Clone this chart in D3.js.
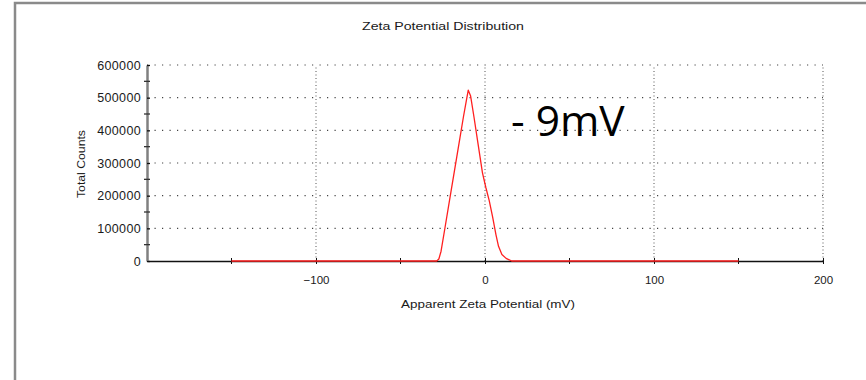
<!doctype html>
<html lang="en">
<head>
<meta charset="utf-8">
<script src="https://d3js.org/d3.v7.min.js"></script>
<style>
  body { margin: 0; background: #fff; }
  svg { display: block; }
  .lbl { font-family: "Liberation Sans", Arial, sans-serif; fill: #1a1a1a; }
</style>
</head>
<body>
<div id="viz"></div>
<script>
// data
const zeta = [-150, -28.6, -27.3, -26, -23.7, -20.7, -16.7, -14.8, -12.8, -10.8, -9.9,
              -8.5, -6.5, -4, -1.5, 0.5, 2.5, 4.5, 6.5, 8, 10, 12.5, 15.8, 150];
const counts = [0, 0, 6000, 30000, 101000, 195000, 319000, 378000, 440000, 498000, 523000,
                505000, 440000, 355000, 270000, 225000, 185000, 135000, 80000, 45000, 20000, 8000, 0, 0];
const xTicks = [-100, 0, 100, 200];
const xMinor = [-150, -50, 50, 150];
const yTicks = [0, 100000, 200000, 300000, 400000, 500000, 600000];
const yMinor = [50000, 150000, 250000, 350000, 450000, 550000];

const width = 866, height = 380;
const svg = d3.select("#viz").append("svg")
    .attr("width", width).attr("height", height);

// frame of the pasted screenshot
svg.append("path")
    .attr("d", "M15,380 V3 H866")
    .attr("fill", "none").attr("stroke", "#8a8a8a").attr("stroke-width", 2.5);

const x = d3.scaleLinear().domain([-200, 200]).range([147, 823]);
const y = d3.scaleLinear().domain([0, 600000]).range([261, 65]);

// grid
svg.append("g").selectAll("line")
    .data(yTicks.slice(1))
    .join("line")
    .attr("x1", x(-200)).attr("x2", x(200))
    .attr("y1", d => y(d)).attr("y2", d => y(d))
    .attr("stroke", "#444").attr("stroke-width", 1.1)
    .attr("stroke-dasharray", "1.2,6.3");

svg.append("g").selectAll("line")
    .data(xTicks)
    .join("line")
    .attr("x1", d => x(d)).attr("x2", d => x(d))
    .attr("y1", y(0)).attr("y2", y(600000))
    .attr("stroke", "#555").attr("stroke-width", 1)
    .attr("stroke-dasharray", "1,2.5");

// x axis
const gx = svg.append("g").attr("transform", `translate(0,${y(0)})`)
    .call(d3.axisBottom(x).tickValues(xTicks).tickSize(3).tickSizeOuter(0).tickPadding(12));
gx.select(".domain").attr("stroke", "#111").attr("stroke-width", 1.5);
gx.selectAll(".tick line").attr("y1", -3).attr("stroke", "#111");
gx.selectAll(".tick text").attr("class", "lbl").style("font-size", "11.5px");
gx.append("g").selectAll("line")
    .data(xMinor)
    .join("line")
    .attr("x1", d => x(d)).attr("x2", d => x(d))
    .attr("y1", -3).attr("y2", 3)
    .attr("stroke", "#111");

// y axis
const gy = svg.append("g").attr("transform", `translate(${x(-200)},0)`)
    .call(d3.axisLeft(y).tickValues(yTicks).tickFormat(d3.format("d")).tickSize(3).tickSizeOuter(0).tickPadding(3));
gy.select(".domain").attr("stroke", "#808080").attr("stroke-width", 2.5);
gy.selectAll(".tick line").attr("x2", 3).attr("stroke", "#111").attr("stroke-width", 1.3);
gy.selectAll(".tick text").attr("class", "lbl")
    .style("font-size", "12.5px").style("letter-spacing", "0.35px");
gy.append("g").selectAll("line")
    .data(yMinor)
    .join("line")
    .attr("x1", -3).attr("x2", 3)
    .attr("y1", d => y(d)).attr("y2", d => y(d))
    .attr("stroke", "#333").attr("stroke-width", 1.3);

// curve
const line = d3.line().x((d, i) => x(zeta[i])).y(d => y(d));
svg.append("path")
    .datum(counts)
    .attr("fill", "none")
    .attr("stroke", "#ff2020")
    .attr("stroke-width", 1.3)
    .attr("stroke-linejoin", "round")
    .attr("d", line);

// texts
svg.append("text").attr("class", "lbl")
    .attr("x", 443).attr("y", 30)
    .attr("text-anchor", "middle")
    .attr("textLength", 162).attr("lengthAdjust", "spacingAndGlyphs")
    .style("font-size", "11.5px")
    .text("Zeta Potential Distribution");

svg.append("text").attr("class", "lbl")
    .attr("x", 488).attr("y", 308)
    .attr("text-anchor", "middle")
    .attr("textLength", 174).attr("lengthAdjust", "spacingAndGlyphs")
    .style("font-size", "11.5px")
    .text("Apparent Zeta Potential (mV)");

svg.append("text").attr("class", "lbl")
    .attr("transform", "translate(85,164) rotate(-90)")
    .attr("text-anchor", "middle")
    .attr("textLength", 68).attr("lengthAdjust", "spacingAndGlyphs")
    .style("font-size", "11.5px")
    .text("Total Counts");

svg.append("text")
    .attr("x", 511).attr("y", 136)
    .style("font-family", "'Open Sans', 'Noto Sans', sans-serif")
    .style("font-size", "42.5px")
    .attr("fill", "#000")
    .text("- 9mV");
</script>
</body>
</html>
